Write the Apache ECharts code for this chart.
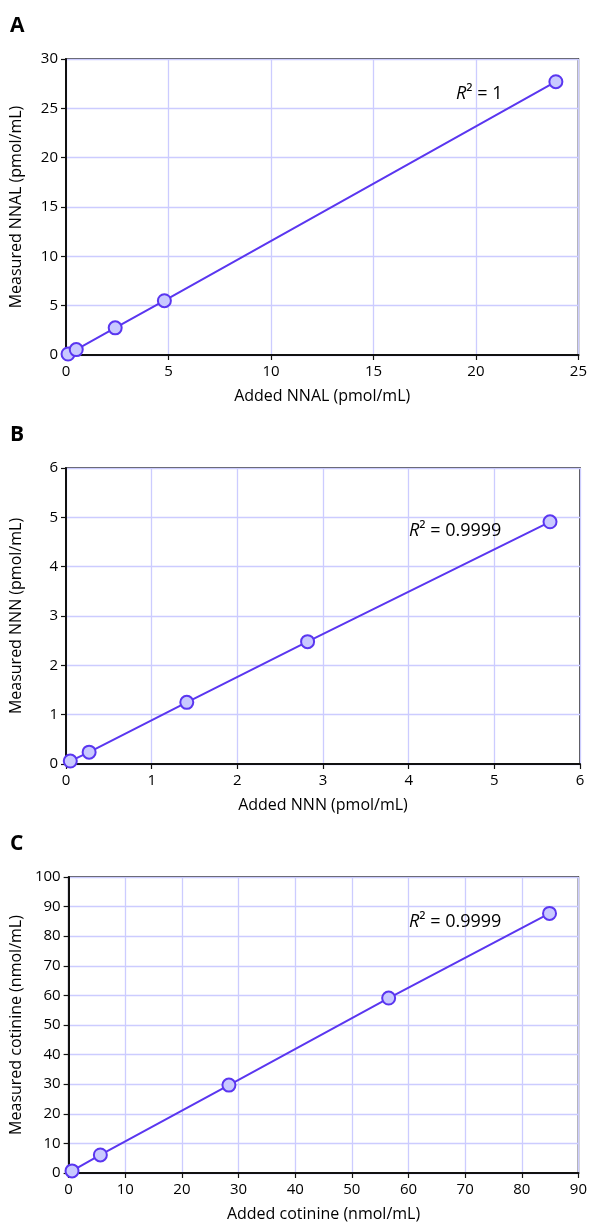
<!DOCTYPE html>
<html>
<head>
<meta charset="utf-8">
<script src="https://cdn.jsdelivr.net/npm/echarts@6/dist/echarts.min.js"></script>
<style>
html,body{margin:0;padding:0;background:#fff;}
#c{width:590px;height:1224px;}
</style>
</head>
<body>
<div id="c"></div>
<script>
// Panel A: NNAL
const nnalAdded = [0.1, 0.5, 2.4, 4.8, 23.9];
const nnalMeasured = [0.1, 0.55, 2.75, 5.5, 27.7];
// Panel B: NNN
const nnnAdded = [0.05, 0.27, 1.41, 2.82, 5.65];
const nnnMeasured = [0.06, 0.24, 1.25, 2.48, 4.91];
// Panel C: cotinine
const cotAdded = [0.6, 5.6, 28.3, 56.5, 84.9];
const cotMeasured = [0.7, 6.1, 29.7, 59.1, 87.7];

const panelLetters = ['A', 'B', 'C'];
const xNames = ['Added NNAL (pmol/mL)', 'Added NNN (pmol/mL)', 'Added cotinine (nmol/mL)'];
const yNames = ['Measured NNAL (pmol/mL)', 'Measured NNN (pmol/mL)', 'Measured cotinine (nmol/mL)'];
const r2Values = ['1', '0.9999', '0.9999'];
const xMax = [25, 6, 90], xStep = [5, 1, 10];
const yMax = [30, 6, 100], yStep = [5, 1, 10];

const panels = [
  [nnalAdded, nnalMeasured],
  [nnnAdded, nnnMeasured],
  [cotAdded, cotMeasured]
];

const FONT = 'Open Sans';
const tops = [59, 468, 877];
const H = 296;
const lineColor = '#5a36f0';
const gridColor = '#ccccff';

const grids = [], xAxes = [], yAxes = [], series = [], graphics = [];
panels.forEach((p, i) => {
  grids.push({left: 66, right: 10, top: tops[i], height: H, show: true,
    borderColor: '#111', borderWidth: 1.5, backgroundColor: '#fff'});
  xAxes.push({
    type: 'value', gridIndex: i, min: 0, max: xMax[i], interval: xStep[i],
    name: xNames[i], nameLocation: 'middle', nameGap: 33,
    nameTextStyle: {fontFamily: FONT, fontSize: 16, color: '#000', fontWeight: 500},
    axisLine: {show: true, onZero: false, lineStyle: {color: '#111', width: 2}},
    axisTick: {show: true, length: 5, lineStyle: {color: '#111', width: 1.2}},
    axisLabel: {fontFamily: FONT, fontSize: 15, color: '#000', fontWeight: 500, margin: 9},
    splitLine: {show: true, lineStyle: {color: gridColor, width: 1.3}}
  });
  yAxes.push({
    type: 'value', gridIndex: i, min: 0, max: yMax[i], interval: yStep[i],
    name: yNames[i], nameLocation: 'middle', nameGap: 42,
    nameTextStyle: {fontFamily: FONT, fontSize: 16, color: '#000', fontWeight: 500},
    axisLine: {show: true, onZero: false, lineStyle: {color: '#111', width: 2}},
    axisTick: {show: true, length: 5, lineStyle: {color: '#111', width: 1.2}},
    axisLabel: {fontFamily: FONT, fontSize: 15, color: '#000', fontWeight: 500, margin: 8},
    splitLine: {show: true, lineStyle: {color: gridColor, width: 1.3}}
  });
  series.push({
    type: 'line', xAxisIndex: i, yAxisIndex: i,
    data: p[0].map((x, k) => [x, p[1][k]]),
    symbol: 'circle', symbolSize: 13,
    lineStyle: {color: lineColor, width: 2},
    itemStyle: {color: '#c9c9ff', borderColor: lineColor, borderWidth: 2},
    z: 5, animation: false
  });
  graphics.push({
    type: 'text', left: 10, top: tops[i] - 43,
    style: {text: panelLetters[i], font: 'bold 21px "' + FONT + '"', fill: '#000'}
  });
  graphics.push({
    type: 'text', x: i === 0 ? 456 : 409, y: [94, 531, 922][i],
    style: {
      text: '{i|R}{n|² = ' + r2Values[i] + '}',
      textVerticalAlign: 'middle',
      rich: {
        i: {fontFamily: FONT, fontStyle: 'italic', fontSize: 18, color: '#333'},
        n: {fontFamily: FONT, fontSize: 18, color: '#333'}
      }
    },
    z: 10
  });
});

const chart = echarts.init(document.getElementById('c'), null, {renderer: 'canvas'});
chart.setOption({
  animation: false,
  grid: grids, xAxis: xAxes, yAxis: yAxes, series: series, graphic: graphics
});
</script>
</body>
</html>
